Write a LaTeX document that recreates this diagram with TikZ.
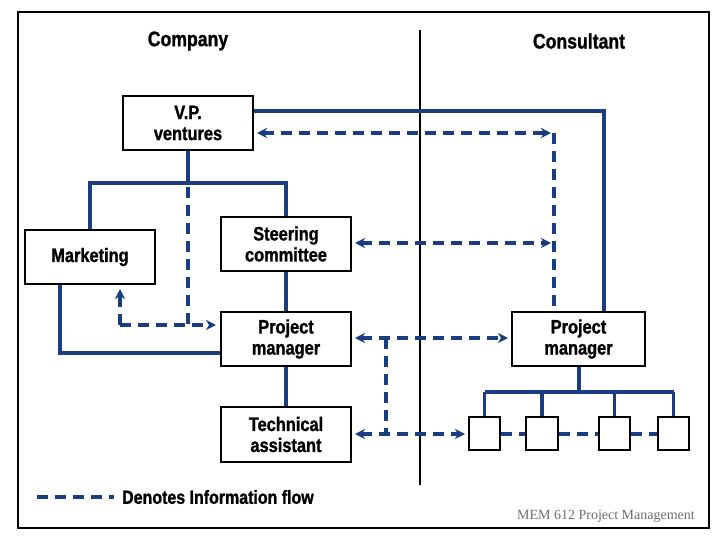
\documentclass[tikz,border=0pt]{standalone}
\usepackage{fontspec}
\newfontfamily\labfont{Liberation Sans}[FakeStretch=0.84, FakeBold=1.2]
\newfontfamily\notefont{Liberation Serif}
\usetikzlibrary{arrows.meta}
\definecolor{flowblue}{RGB}{28,60,130}
\definecolor{notegray}{RGB}{110,110,110}
\tikzset{
  box/.style={draw=black, line width=2pt, fill=white, align=center, inner sep=0pt,
    font=\labfont\bfseries\fontsize{19.5}{21}\selectfont},
  smallbox/.style={draw=black, line width=2pt, fill=white, minimum width=31pt, minimum height=33pt, inner sep=0pt},
  solidlink/.style={draw=flowblue, line width=3.2pt},
  infolink/.style={draw=flowblue, line width=3.2pt, dash pattern=on 11pt off 7pt},
  tip/.style={-{Stealth[length=10pt,width=10pt,inset=3pt]}},
  tips/.style={{Stealth[length=10pt,width=10pt,inset=3pt]}-{Stealth[length=10pt,width=10pt,inset=3pt]}},
  heading/.style={font=\labfont\bfseries\fontsize{21}{23}\selectfont},
}
\begin{document}
\begin{tikzpicture}[x=1pt,y=-1pt]
\useasboundingbox (0,0) rectangle (720,540);
\draw[line width=1.3pt] (18,12) rectangle (709,528);
\draw[line width=2pt] (420,30) -- (420,485);

\node[heading] (hcomp) at (188,41) {Company};
\node[heading] (hcons) at (579,41) {Consultant};

\node[box, minimum width=130pt, minimum height=54pt] (vp) at (188,123) {V.P.\\ventures};
\node[box, minimum width=130pt, minimum height=54pt] (mkt) at (90,257) {Marketing};
\node[box, minimum width=130pt, minimum height=54pt] (steer) at (286,244) {Steering\\committee};
\node[box, minimum width=130pt, minimum height=54pt] (pmc) at (286,339) {Project\\manager};
\node[box, minimum width=130pt, minimum height=55pt] (tech) at (286,434.5) {Technical\\assistant};
\node[box, minimum width=133pt, minimum height=54pt] (pms) at (578.5,339) {Project\\manager};

\node[smallbox] (s1) at (484.5,433.5) {};
\node[smallbox, minimum width=32pt] (s2) at (542,433.5) {};
\node[smallbox] (s3) at (614.5,433.5) {};
\node[smallbox] (s4) at (673.5,433.5) {};

% solid reporting lines
\coordinate (vpA) at (604,111);
\draw[solidlink] (vp.east |- vpA) -- (vpA) -- (pms.north -| vpA);
\coordinate (bar) at (188,183);
\draw[solidlink] (vp.south) -- (bar);
\draw[solidlink] (mkt.north) -- (mkt.north |- bar) -- (steer.north |- bar) -- (steer.north);
\draw[solidlink] (steer.south) -- (pmc.north);
\draw[solidlink] (pmc.south) -- (tech.north);
\coordinate (mk) at (60,353);
\draw[solidlink] (mkt.south -| mk) -- (mk) -- (pmc.west |- mk);
\coordinate (tree) at (579,392);
\draw[solidlink] (pms.south -| tree) -- (tree);
\draw[solidlink] (s1.north |- tree) -- (s4.north |- tree);
\draw[solidlink] (s1.north |- tree) -- (s1.north);
\draw[solidlink] (s2.north |- tree) -- (s2.north);
\draw[solidlink] (s3.north |- tree) -- (s3.north);
\draw[solidlink] (s4.north |- tree) -- (s4.north);

% information flow
\coordinate (c1) at (554,133);
\coordinate (c2) at (554,243);
\draw[infolink, tips, shorten <=3pt, shorten >=3pt] (vp.east |- c1) -- (c1);
\draw[infolink] (c1) -- (pms.north -| c1);
\draw[infolink, tips, shorten <=3pt, shorten >=3pt] (steer.east |- c2) -- (c2);
\coordinate (d1) at (188,325);
\coordinate (d2) at (120,325);
\draw[infolink] (vp.south) -- (d1);
\draw[infolink, tip, shorten >=4pt] (d2) -- (pmc.west |- d2);
\draw[infolink, tip, shorten >=4pt] (d2) -- (mkt.south -| d2);
\coordinate (e1) at (386,338);
\coordinate (e2) at (386,434);
\draw[infolink, tips, shorten <=3pt, shorten >=3pt] (pmc.east |- e1) -- (pms.west |- e1);
\draw[infolink] (e1) -- (e2);
\draw[infolink, tips, shorten <=3pt, shorten >=3pt] (tech.east |- e2) -- (s1.west |- e2);
\draw[infolink] (s1.east |- e2) -- (s2.west |- e2);
\draw[infolink] (s2.east |- e2) -- (s3.west |- e2);
\draw[infolink] (s3.east |- e2) -- (s4.west |- e2);

% legend
\coordinate (lg1) at (37,497);
\coordinate (lg2) at (114,497);
\draw[infolink] (lg1) -- (lg2);
\node[anchor=west, inner sep=0pt, font=\labfont\bfseries\fontsize{19}{21}\selectfont] (legend) at (122,497) {Denotes Information flow};

\node[anchor=east, inner sep=0pt, text=notegray, font=\notefont\fontsize{14}{16}\selectfont] (note) at (695,516) {MEM 612 Project Management};
\end{tikzpicture}
\end{document}
